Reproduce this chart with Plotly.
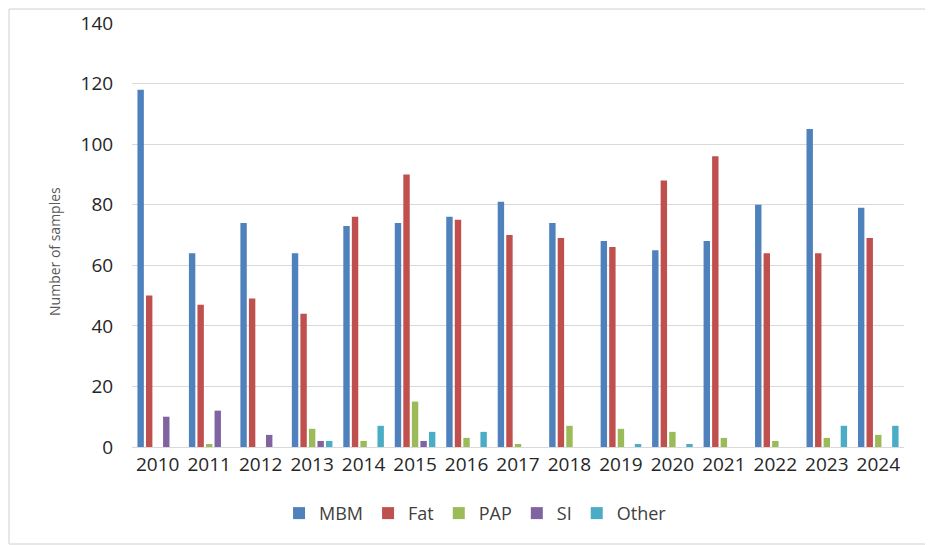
import plotly.graph_objects as go

years = ["2010", "2011", "2012", "2013", "2014", "2015", "2016", "2017",
         "2018", "2019", "2020", "2021", "2022", "2023", "2024"]
mbm = [118, 64, 74, 64, 73, 74, 76, 81, 74, 68, 65, 68, 80, 105, 79]
fat = [50, 47, 49, 44, 76, 90, 75, 70, 69, 66, 88, 96, 64, 64, 69]
pap = [0, 1, 0, 6, 2, 15, 3, 1, 7, 6, 5, 3, 2, 3, 4]
si = [10, 12, 4, 2, 0, 2, 0, 0, 0, 0, 0, 0, 0, 0, 0]
other = [0, 0, 0, 2, 7, 5, 5, 0, 0, 1, 1, 0, 0, 7, 7]

series = [("MBM", mbm, "#4F81BD"), ("Fat", fat, "#C0504D"), ("PAP", pap, "#9BBB59"),
          ("SI", si, "#8064A2"), ("Other", other, "#4BACC6")]

fig = go.Figure()
for name, vals, col in series:
    fig.add_trace(go.Bar(x=years, y=vals, name=name, marker_color=col,
                         marker_line_width=0))

# page has an 8px body margin, so the figure is offset by 8px
W, H = 925, 537
ml, mr, mt, mb = 124, 29, 15, 98
pw, ph = W - ml - mr, H - mt - mb

fig.update_layout(
    width=W, height=H,
    margin=dict(l=ml, r=mr, t=mt, b=mb, autoexpand=False),
    paper_bgcolor="white", plot_bgcolor="white",
    barmode="group", bargap=0.17, bargroupgap=0.25,
    font=dict(family="Open Sans, sans-serif", color="#404040"),
    showlegend=True,
    legend=dict(orientation="h", x=0.445, xanchor="center", y=-0.113, yanchor="top",
                font=dict(size=18, color="#404040"), traceorder="normal",
                itemwidth=30),
    xaxis=dict(showgrid=False, showline=True, linecolor="#d9d9d9", linewidth=1,
               tickfont=dict(size=19, color="#262626"), ticks="", automargin=False),
    yaxis=dict(range=[0, 140], dtick=20, showgrid=True, gridcolor="#d9d9d9",
               zeroline=False, tickfont=dict(size=19, color="#262626"),
               ticks="outside", ticklen=14, tickcolor="rgba(0,0,0,0)", automargin=False),
    annotations=[dict(text="Number of samples", textangle=-90, showarrow=False,
                      xref="paper", yref="paper", x=-77 / pw, y=0.46,
                      xanchor="center", yanchor="middle",
                      font=dict(size=14, color="#595959"))],
    shapes=[dict(type="rect", xref="paper", yref="paper",
                 x0=-(ml - 1) / pw, x1=1 + (mr - 1) / pw,
                 y0=-(mb - 1) / ph, y1=1 + (mt - 1) / ph,
                 line=dict(color="#d0d0d0", width=1))],
)

fig.write_html("out.html")
